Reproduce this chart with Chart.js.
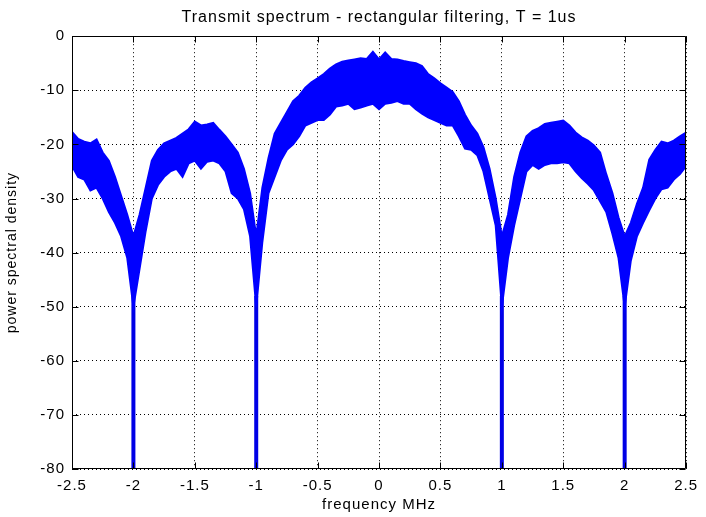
<!DOCTYPE html>
<html>
<head>
<meta charset="utf-8">
<script src="https://cdn.jsdelivr.net/npm/chart.js@4.4.1/dist/chart.umd.min.js"></script>
<style>
  html, body { margin: 0; padding: 0; background: #fff; }
  #wrap { width: 706px; height: 517px; position: relative; }
</style>
</head>
<body>
<div id="wrap"><canvas id="spectrum"></canvas></div>
<script>
// frequency grid (MHz) and the top / bottom edge of the noisy PSD band (dB)
const freqs = [
  -2.50, -2.45, -2.40, -2.35, -2.30, -2.25, -2.20, -2.15, -2.10, -2.05,
  -2.00, -1.95, -1.90, -1.85, -1.80, -1.75, -1.70, -1.65, -1.60, -1.55,
  -1.50, -1.45, -1.40, -1.35, -1.30, -1.25, -1.20, -1.15, -1.10, -1.05,
  -1.00, -0.95, -0.90, -0.85, -0.80, -0.75, -0.70, -0.65, -0.60, -0.55,
  -0.50, -0.45, -0.40, -0.35, -0.30, -0.25, -0.20, -0.15, -0.10, -0.05,
   0.00,  0.05,  0.10,  0.15,  0.20,  0.25,  0.30,  0.35,  0.40,  0.45,
   0.50,  0.55,  0.60,  0.65,  0.70,  0.75,  0.80,  0.85,  0.90,  0.95,
   1.00,  1.05,  1.10,  1.15,  1.20,  1.25,  1.30,  1.35,  1.40,  1.45,
   1.50,  1.55,  1.60,  1.65,  1.70,  1.75,  1.80,  1.85,  1.90,  1.95,
   2.00,  2.05,  2.10,  2.15,  2.20,  2.25,  2.30,  2.35,  2.40,  2.45,
   2.50
];

const psdUpper = [
  -17.7, -19.0, -19.5, -19.8, -19.1, -21.5, -23.0, -26.0, -29.5, -33.0,
  -37.0, -33.0, -28.0, -23.0, -21.0, -19.8, -19.3, -18.8, -18.0, -17.2,
  -15.8, -16.5, -16.3, -16.0, -17.3, -18.5, -20.0, -21.5, -24.5, -29.0,
  -37.0, -28.0, -22.5, -18.0, -16.0, -14.0, -12.0, -11.0, -9.5, -8.5,
  -7.8, -7.0, -6.0, -5.2, -4.7, -4.5, -4.3, -4.1, -4.2, -2.9,
  -4.3, -3.0, -4.2, -4.3, -4.6, -4.8, -5.0, -5.5, -7.0, -7.8,
  -8.7, -9.5, -10.3, -12.0, -14.5, -16.5, -18.0, -20.5, -24.5, -30.0,
  -37.0, -33.0, -26.0, -21.5, -18.5, -17.5, -17.0, -16.2, -16.0, -15.8,
  -15.6, -16.5, -17.8, -18.7, -19.3, -20.2, -21.5, -25.5, -29.0, -33.5,
  -37.0, -34.5, -31.0, -28.0, -22.8, -21.0, -19.5, -19.8, -19.3, -18.5,
  -17.8
];

const psdLower = [
  -24.0, -26.0, -26.5, -28.5, -28.0, -30.0, -32.5, -34.5, -37.0, -41.0,
  -50.0, -43.0, -36.0, -30.0, -27.5, -26.0, -25.0, -24.5, -26.0, -23.5,
  -23.0, -24.5, -23.2, -23.0, -23.5, -25.0, -29.0, -30.0, -32.0, -37.0,
  -50.0, -38.0, -29.0, -26.0, -23.0, -21.0, -20.0, -18.5, -16.5, -16.0,
  -15.5, -15.5, -14.5, -13.0, -12.8, -12.5, -13.5, -13.2, -12.8, -12.5,
  -13.5, -12.5, -12.3, -12.0, -12.5, -12.5, -13.5, -14.3, -15.0, -15.5,
  -16.0, -16.5, -16.5, -18.5, -20.8, -21.0, -22.0, -25.0, -30.0, -35.0,
  -50.0, -41.0, -35.0, -30.0, -25.0, -23.8, -24.5, -23.8, -23.5, -23.5,
  -23.3, -23.5, -25.0, -26.2, -27.3, -28.5, -30.5, -32.5, -36.5, -41.0,
  -50.0, -41.5, -37.0, -34.5, -32.2, -30.0, -28.3, -28.0, -26.5, -25.5,
  -24.0
];

// spectral nulls drop to the bottom of the axis
const nullFreqs = [-2, -1, 1, 2];
const nullFloor = -80;
const nullTop = -48;

const xTicks = [-2.5, -2, -1.5, -1, -0.5, 0, 0.5, 1, 1.5, 2, 2.5];
const yTicks = [0, -10, -20, -30, -40, -50, -60, -70, -80];

const BLUE = "#0000ff";
const FONT = "'Liberation Sans', Arial, Helvetica, sans-serif";

const toPoints = (ys) => freqs.map((f, i) => ({ x: f, y: ys[i] }));

const datasets = [
  {
    data: toPoints(psdUpper),
    borderColor: BLUE,
    backgroundColor: BLUE,
    borderWidth: 2,
    pointRadius: 0,
    fill: "+1",
  },
  {
    data: toPoints(psdLower),
    borderColor: BLUE,
    borderWidth: 2,
    pointRadius: 0,
    fill: false,
  },
];

nullFreqs.forEach((f) => {
  datasets.push({
    data: [{ x: f, y: nullFloor }, { x: f, y: nullTop }],
    borderColor: "#0000e6",
    borderWidth: 4,
    pointRadius: 0,
    fill: false,
  });
});

// canvas text spacing, reapplied since a resize resets the context
const textSpacing = {
  id: "textSpacing",
  beforeUpdate(chart) { chart.ctx.letterSpacing = "1px"; },
  beforeDraw(chart) { chart.ctx.letterSpacing = "1px"; },
};

// axes box with inward tick marks on all four sides
const boxTicks = {
  id: "boxTicks",
  afterDraw(chart) {
    const { ctx, chartArea: a, scales } = chart;
    const len = 6;
    ctx.save();
    ctx.strokeStyle = "#000";
    ctx.lineWidth = 1;
    ctx.beginPath();
    const l = Math.round(a.left) + 0.5, r = Math.round(a.right) - 0.5;
    const t = Math.round(a.top) + 0.5, b = Math.round(a.bottom) - 0.5;
    ctx.rect(l, t, r - l, b - t);
    xTicks.forEach((v) => {
      const px = Math.round(scales.x.getPixelForValue(v)) + 0.5;
      ctx.moveTo(px, b); ctx.lineTo(px, b - len);
      ctx.moveTo(px, t); ctx.lineTo(px, t + len);
    });
    yTicks.forEach((v) => {
      const py = Math.round(scales.y.getPixelForValue(v)) + 0.5;
      ctx.moveTo(l, py); ctx.lineTo(l + len, py);
      ctx.moveTo(r, py); ctx.lineTo(r - len, py);
    });
    ctx.stroke();
    ctx.restore();
  },
};

const tickFont = { family: FONT, size: 15 };

new Chart(document.getElementById("spectrum"), {
  type: "line",
  data: { datasets: datasets },
  options: {
    responsive: true,
    maintainAspectRatio: false,
    animation: false,
    layout: { padding: { right: 14 } },
    plugins: {
      legend: { display: false },
      tooltip: { enabled: false },
      title: {
        display: true,
        fullSize: false,
        text: "Transmit spectrum - rectangular filtering, T = 1us",
        color: "#000",
        font: { family: FONT, size: 16, weight: "normal" },
        padding: { top: 8, bottom: 9 },
      },
    },
    scales: {
      x: {
        type: "linear",
        min: -2.5,
        max: 2.5,
        afterBuildTicks: (s) => { s.ticks = xTicks.map((v) => ({ value: v })); },
        afterFit: (s) => { s.height = 48; },
        ticks: {
          color: "#000",
          font: tickFont,
          padding: 8,
          maxRotation: 0,
          autoSkip: false,
          callback: (v) => String(v),
        },
        grid: { color: "#000", lineWidth: 1, drawTicks: false },
        border: { display: false, dash: [1, 3] },
        title: {
          display: true,
          text: "frequency MHz",
          color: "#000",
          font: tickFont,
          padding: { top: 0, bottom: 3 },
        },
      },
      y: {
        type: "linear",
        min: -80,
        max: 0,
        afterBuildTicks: (s) => { s.ticks = yTicks.map((v) => ({ value: v })); },
        afterFit: (s) => { s.width = 72; },
        ticks: {
          color: "#000",
          font: tickFont,
          padding: 7,
          autoSkip: false,
          callback: (v) => String(v),
        },
        grid: { color: "#000", lineWidth: 1, drawTicks: false },
        border: { display: false, dash: [1, 3] },
        title: {
          display: true,
          text: "power spectral density",
          color: "#000",
          font: { family: FONT, size: 14 },
          padding: { top: 4, bottom: 0 },
        },
      },
    },
  },
  plugins: [textSpacing, boxTicks],
});
</script>
</body>
</html>
